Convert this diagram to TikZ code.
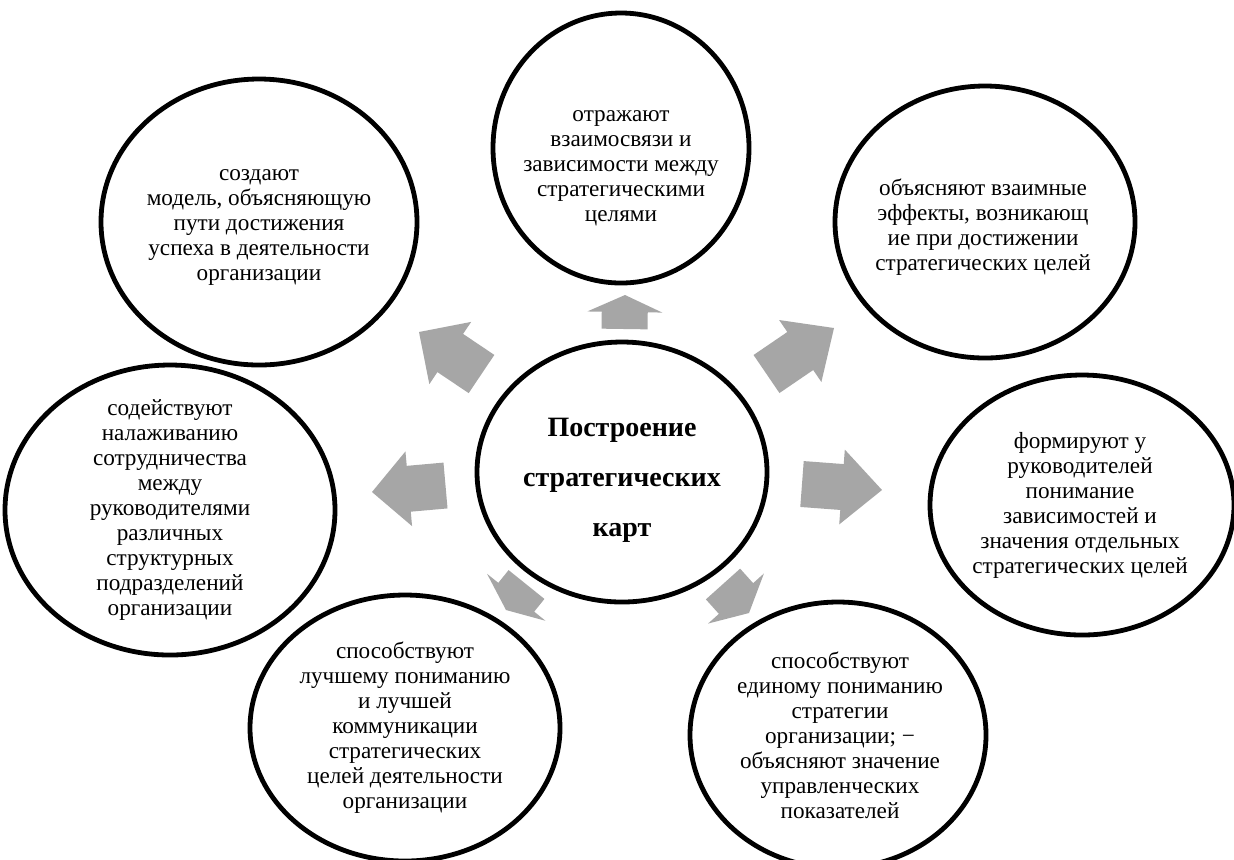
\documentclass[tikz,border=0pt]{standalone}
\usepackage{fontspec}
\setmainfont{Liberation Serif}
\usetikzlibrary{shapes.geometric,calc}
\definecolor{arrowgray}{RGB}{166,166,166}
\tikzset{
  bubble/.style={ellipse, draw=black, line width=2.4pt, inner sep=0pt},
  bubbletext/.style={align=center, inner sep=0pt, font=\fontsize{11.6}{12.5}\selectfont},
  hubtext/.style={align=center, inner sep=0pt, font=\bfseries\fontsize{14}{25}\selectfont},
  blockarrow/.style={fill=arrowgray, draw=none}
}
% #1 name prefix, #2 back (x,y), #3 tip (x,y)
\newcommand\blockarr[3]{%
  \coordinate (#1b) at #2;
  \coordinate (#1t) at #3;
  \coordinate (#1m) at ($(#1b)!0.5!(#1t)$);
  \fill[blockarrow]
    ($(#1b)!11.5pt!90:(#1t)$) --
    ($(#1m)!11.5pt!90:(#1t)$) --
    ($(#1m)!18.75pt!90:(#1t)$) --
    (#1t) --
    ($(#1m)!18.75pt!-90:(#1t)$) --
    ($(#1m)!11.5pt!-90:(#1t)$) --
    ($(#1b)!11.5pt!-90:(#1t)$) -- cycle;}
\begin{document}
\begin{tikzpicture}[x=0.5pt,y=-0.5pt]
\fill[white] (0,0) rectangle (1234,859);
\useasboundingbox (0,0) rectangle (1234,859);

% ellipses (minimum width in pt = rx px, since 1px = 0.5pt)
\node[bubble, minimum width=145pt, minimum height=130pt] (hub) at (622,472) {};
\node[bubble, minimum width=128pt, minimum height=135pt] (top) at (621,148) {};
\node[bubble, minimum width=158pt, minimum height=143pt] (tl) at (259,222) {};
\node[bubble, minimum width=150pt, minimum height=136pt] (tr) at (985,222) {};
\node[bubble, minimum width=165pt, minimum height=145pt] (lf) at (170,510) {};
\node[bubble, minimum width=152pt, minimum height=130pt] (rt) at (1082,505) {};
\node[bubble, minimum width=155pt, minimum height=133pt] (bl) at (405,728) {};
\node[bubble, minimum width=148pt, minimum height=133pt] (br) at (838,735) {};

% texts
\node[hubtext] (hubt) at (622,480) {Построение\\стратегических\\карт};
\node[bubbletext] (topt) at (621,168) {отражают\\взаимосвязи и\\зависимости между\\стратегическими\\целями};
\node[bubbletext] (tlt) at (259,227) {создают\\модель, объясняющую\\пути достижения\\успеха в деятельности\\организации};
\node[bubbletext] (trt) at (983,227) {объясняют взаимные\\эффекты, возникающ\\ие при достижении\\стратегических целей};
\node[bubbletext] (lft) at (170,510) {содействуют\\налаживанию\\сотрудничества\\между\\руководителями\\различных\\структурных\\подразделений\\организации};
\node[bubbletext] (rtt) at (1080,505) {формируют у\\руководителей\\понимание\\зависимостей и\\значения отдельных\\стратегических целей};
\node[bubbletext] (blt) at (405,728) {способствуют\\лучшему пониманию\\и лучшей\\коммуникации\\стратегических\\целей деятельности\\организации};
\node[bubbletext] (brt) at (840,735) {способствуют\\единому пониманию\\стратегии\\организации; −\\объясняют значение\\управленческих\\показателей};

% block arrows
\blockarr{a1}{(624.5,329)}{(625,295)}
\blockarr{a2}{(481.5,374)}{(419,332)}
\blockarr{a3}{(766.5,374)}{(834,328)}
\blockarr{a4}{(445.5,485.5)}{(372,492)}
\blockarr{a5}{(802,484)}{(882,490)}
\blockarr{a6}{(526.5,584.5)}{(506,610)}
\blockarr{a7}{(723,584)}{(749,613)}
\end{tikzpicture}
\end{document}
